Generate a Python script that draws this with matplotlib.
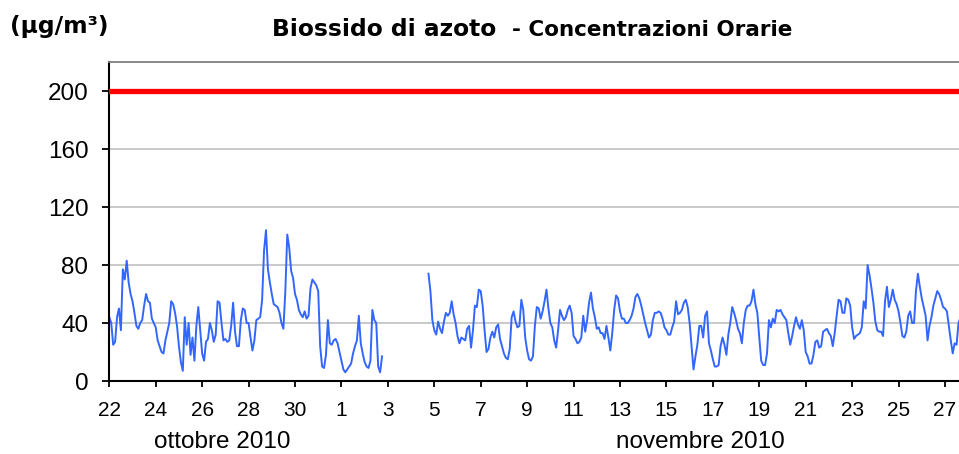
# -*- coding: utf-8 -*-
"""Biossido di azoto - concentrazioni orarie, 22 ottobre - 27 novembre 2010"""

import matplotlib
matplotlib.use('Agg')
import matplotlib.pyplot as plt
import pandas as pd

plt.rcParams['font.family'] = ['Liberation Sans', 'DejaVu Sans']

# valori, un valore ogni 2 ore (ug/m3)
no2_ott_22_27 = [
    44, 40, 25, 27, 44, 50, 35, 77, 70, 83, 68, 60,    # 22
    55, 47, 38, 36, 40, 42, 52, 60, 55, 54, 43, 40,    # 23
    37, 28, 24, 20, 19, 28, 34, 40, 55, 53, 47, 38,    # 24
    24, 13, 7, 44, 25, 40, 18, 30, 14, 38, 51, 35,     # 25
    19, 14, 27, 29, 40, 35, 27, 32, 55, 54, 40, 28,    # 26
    29, 27, 28, 38, 54, 34, 24, 24, 42, 50, 49, 40,    # 27
]
no2_ott28_nov02 = [
    40, 30, 21, 28, 42, 43, 44, 56, 90, 104, 77, 68,   # 28
    60, 53, 52, 51, 47, 40, 36, 62, 101, 92, 76, 71,   # 29
    60, 56, 49, 46, 44, 48, 43, 45, 64, 70, 68, 66,    # 30
    62, 24, 10, 9, 18, 42, 26, 25, 28, 29, 26, 20,     # 31
    14, 8, 6, 8, 10, 12, 19, 24, 28, 45, 26, 19,       # 1 nov
    13, 10, 9, 14, 49, 42, 40, 10, 6, 17,              # 2 nov (fino alle 18)
]
no2_nov04_10 = [
    74, 62, 42,                                        # 4 (dalle 18)
    35, 32, 41, 36, 33, 41, 47, 45, 47, 55, 46, 40,    # 5
    31, 26, 30, 29, 28, 36, 38, 23, 35, 52, 51, 63,    # 6
    62, 52, 35, 20, 22, 30, 34, 30, 37, 39, 29, 24,    # 7
    19, 16, 15, 22, 44, 48, 41, 37, 38, 56, 49, 30,    # 8
    21, 15, 14, 17, 38, 51, 50, 43, 48, 55, 63, 50,    # 9
    40, 37, 28, 23, 35, 49, 45, 42, 44, 49, 52, 47,    # 10
]
no2_nov11_17 = [
    31, 29, 26, 27, 30, 45, 34, 42, 54, 61, 50, 44,    # 11
    36, 37, 33, 33, 29, 38, 30, 21, 33, 49, 59, 57,    # 12
    48, 43, 43, 40, 40, 42, 45, 50, 58, 60, 57, 52,    # 13
    46, 40, 35, 30, 32, 42, 47, 47, 48, 47, 43, 37,    # 14
    35, 32, 32, 37, 41, 55, 46, 47, 49, 54, 56, 51,    # 15
    40, 24, 8, 17, 25, 38, 38, 30, 45, 48, 26, 21,     # 16
    15, 10, 10, 11, 24, 30, 25, 18, 32, 40, 51, 47,    # 17
]
no2_nov18_24 = [
    42, 36, 33, 26, 40, 49, 52, 52, 55, 63, 53, 47,    # 18
    30, 14, 11, 11, 19, 42, 37, 43, 40, 49, 48, 49,    # 19
    46, 44, 42, 33, 25, 31, 38, 44, 39, 36, 42, 35,    # 20
    20, 17, 12, 12, 18, 27, 28, 23, 24, 34, 35, 36,    # 21
    33, 31, 24, 33, 45, 56, 55, 47, 47, 57, 56, 52,    # 22
    37, 29, 31, 32, 33, 37, 55, 50, 80, 73, 64, 54,    # 23
    41, 35, 34, 34, 31, 55, 65, 51, 56, 63, 56, 53,    # 24
]
no2_nov25_27 = [
    48, 40, 31, 30, 34, 45, 48, 40, 40, 62, 74, 65,    # 25
    57, 51, 45, 28, 38, 44, 52, 57, 62, 60, 56, 51,    # 26
    50, 48, 38, 28, 19, 26, 25, 40, 44,                # 27
]

LIMITE_ORARIO = 200
Y_TICKS = [0, 40, 80, 120, 160, 200]
MESI = ['ottobre 2010', 'novembre 2010']

seg1 = no2_ott_22_27 + no2_ott28_nov02
seg2 = no2_nov04_10 + no2_nov11_17 + no2_nov18_24 + no2_nov25_27
t1 = pd.date_range('2010-10-22 00:00', periods=len(seg1), freq='2h')
t2 = pd.date_range('2010-11-04 18:00', periods=len(seg2), freq='2h')
giorni = pd.date_range('2010-10-22', '2010-11-27', freq='2D')

W, H = 959, 454
fig = plt.figure(figsize=(W / 100, H / 100), dpi=100)
ax = fig.add_axes([109.3 / W, 1 - 381 / H, (W - 109.3) / W, (381 - 62) / H])

blu = '#3366FF'
ax.plot(t1, seg1, color=blu, lw=1.4)
ax.plot(t2, seg2, color=blu, lw=1.4)
ax.axhline(LIMITE_ORARIO, color='#FF0000', lw=3.8, zorder=3)

ax.set_ylim(0, 220)
ax.set_yticks(Y_TICKS)
start = pd.Timestamp('2010-10-22')
ax.set_xlim(start, start + pd.Timedelta(hours=878.5))
ax.set_xticks(giorni)
ax.set_xticklabels([str(d.day) for d in giorni])

ax.set_axisbelow(True)
ax.yaxis.grid(True, color='#C0C0C0', lw=1.2)
ax.spines['right'].set_visible(False)
ax.spines['top'].set_color('#808080')
ax.spines['top'].set_linewidth(1.3)
ax.spines['left'].set_linewidth(1.5)
ax.spines['bottom'].set_linewidth(1.5)
ax.tick_params(axis='y', labelsize=17.5, length=5, width=1.3, pad=10)
ax.tick_params(axis='x', labelsize=15, length=4.5, width=1.3, pad=10)

# titolo e unita'
fig.text(10 / W, 1 - 33 / H, '(μg/m³)', family='DejaVu Sans', weight='bold',
         fontsize=16.8, ha='left', va='baseline')
fig.text(272 / W, 1 - 36 / H, 'Biossido di azoto', family='DejaVu Sans', weight='bold',
         fontsize=16.8, ha='left', va='baseline')
fig.text(512 / W, 1 - 36 / H, '- Concentrazioni Orarie', family='DejaVu Sans', weight='bold',
         fontsize=15.5, ha='left', va='baseline')

# mesi sotto l'asse
for x, testo in zip([222, 700], MESI):
    fig.text(x / W, 1 - 442 / H, testo, fontsize=17.5, ha='center', va='center')

fig.savefig('out.png', dpi=100, facecolor='white')
plt.close()
